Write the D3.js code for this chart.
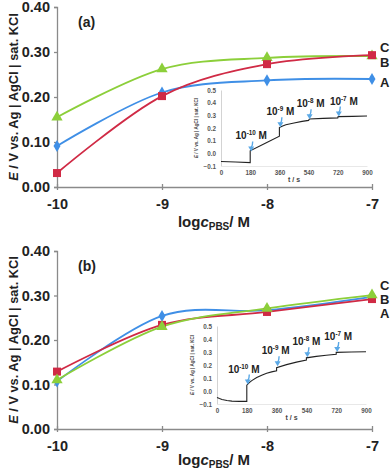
<!DOCTYPE html>
<html><head><meta charset="utf-8">
<script src="https://cdn.jsdelivr.net/npm/d3@7"></script>
<style>
html,body{margin:0;padding:0;background:#fff;}
svg{display:block;font-family:"Liberation Sans",Arial,sans-serif;}
</style></head>
<body>
<svg id="c" width="392" height="473"></svg>
<script>
// ---- data ----
const logc = [-10, -9, -8, -7];
const xTickLabels = ["-10", "-9", "-8", "-7"];
const yTicksMain = [0, 0.1, 0.2, 0.3, 0.4];
const seriesNames = ["A", "B", "C"];

const panelA_A = [0.091, 0.210, 0.237, 0.240];
const panelA_B = [0.031, 0.202, 0.273, 0.293];
const panelA_C = [0.155, 0.262, 0.287, 0.291];

const panelB_A = [0.107, 0.254, 0.267, 0.297];
const panelB_B = [0.129, 0.234, 0.263, 0.292];
const panelB_C = [0.110, 0.230, 0.271, 0.301];

const insetTicksT = [0, 180, 360, 540, 720, 900];
const insetTicksE = [-0.1, 0.0, 0.1, 0.2, 0.3, 0.4, 0.5];
const addTimes = [180, 360, 540, 720];
const addExponents = ["-10", "-9", "-8", "-7"];

const insetA_t = [0, 90, 180, 180, 270, 360, 360, 380, 400, 450, 500, 540, 545, 630, 720, 722, 810, 900];
const insetA_E = [-0.065, -0.069, -0.073, 0.020, 0.078, 0.135, 0.203, 0.215, 0.225, 0.240, 0.252, 0.260, 0.271, 0.276, 0.280, 0.290, 0.292, 0.295];

const insetB_t = [0, 15, 30, 60, 90, 135, 180, 180, 195, 210, 240, 270, 300, 330, 360, 360, 420, 480, 540, 540, 600, 660, 720, 720, 810, 900];
const insetB_E = [-0.050, -0.058, -0.065, -0.073, -0.078, -0.080, -0.080, 0.045, 0.065, 0.080, 0.104, 0.122, 0.136, 0.147, 0.155, 0.180, 0.203, 0.222, 0.238, 0.255, 0.266, 0.275, 0.282, 0.297, 0.300, 0.302];

// ---- styles ----
const colors = {A: "#3f8fe6", B: "#d02a45", C: "#8ccf3a"};
const symbols = {A: d3.symbolDiamond, B: d3.symbolSquare, C: d3.symbolTriangle};
const symSize = {A: 42, B: 64, C: 55};
const axisColor = "#8a8a8a";

const svg = d3.select("#c");

function drawPanel(cfg) {
  const g = svg.append("g");
  const x = d3.scaleLinear().domain([-10, -7]).range([57, 372]);
  const y = d3.scaleLinear().domain([0, 0.4]).range([cfg.y0, cfg.y1]);

  // y axis
  const ya = g.append("g").attr("transform", "translate(57,0)")
    .call(d3.axisLeft(y).tickValues(yTicksMain).tickFormat(d3.format(".2f")).tickSize(3).tickPadding(4));
  ya.select(".domain").attr("stroke", axisColor).attr("stroke-width", 1.3);
  ya.selectAll(".tick line").attr("stroke", axisColor).attr("stroke-width", 1.3);
  ya.selectAll("text").attr("font-size", 14.5).attr("font-weight", "bold").attr("fill", "#222");

  // x axis
  const xa = g.append("g").attr("transform", `translate(0,${cfg.y0})`)
    .call(d3.axisBottom(x).tickValues(logc).tickFormat((d, i) => xTickLabels[i]).tickSize(3).tickPadding(9).tickSizeOuter(0));
  xa.select(".domain").attr("stroke", axisColor).attr("stroke-width", 1.3);
  xa.selectAll(".tick line").attr("stroke", axisColor).attr("stroke-width", 1.3).attr("y1", -3);
  xa.selectAll("text").attr("font-size", 14.5).attr("font-weight", "bold").attr("fill", "#222");

  // y title
  const yt = g.append("text")
    .attr("transform", `translate(18,${(cfg.y0 + cfg.y1) / 2}) rotate(-90)`)
    .attr("text-anchor", "middle").attr("font-size", 12.8).attr("font-weight", "bold").attr("fill", "#222");
  yt.append("tspan").attr("font-style", "italic").text("E");
  yt.append("tspan").text(" / V vs. Ag | AgCl | sat. KCl");

  // x title
  const xt = g.append("text").attr("x", 214).attr("y", cfg.y0 + cfg.xTitleDy)
    .attr("text-anchor", "middle").attr("font-size", 15).attr("font-weight", "bold").attr("fill", "#222");
  xt.append("tspan").text("log");
  xt.append("tspan").attr("font-style", "italic").text("c");
  xt.append("tspan").attr("font-size", 10).attr("dy", 3).text("PBS");
  xt.append("tspan").attr("dy", -3).text("/ M");

  // panel label
  g.append("text").attr("x", 78).attr("y", cfg.y1 + 20).attr("font-size", 14).attr("font-weight", "bold")
    .attr("fill", "#222").text(cfg.label);

  // series lines
  const line = d3.line().x((d, i) => x(logc[i])).y(d => y(d)).curve(d3.curveCardinal.tension(0));
  cfg.order.forEach(k => {
    g.append("path").attr("d", line(cfg.data[k])).attr("fill", "none")
      .attr("stroke", colors[k]).attr("stroke-width", 1.8);
  });
  cfg.order.forEach(k => {
    g.selectAll(null).data(cfg.data[k]).enter().append("path")
      .attr("d", d3.symbol().type(symbols[k]).size(symSize[k]))
      .attr("transform", (d, i) => `translate(${x(logc[i])},${y(d)})`)
      .attr("fill", colors[k]);
  });

  // series letters
  seriesNames.forEach(k => {
    g.append("text").attr("x", 380).attr("y", cfg.letterY[k] + 4.5).attr("font-size", 13)
      .attr("font-weight", "bold").attr("fill", "#222").text(k);
  });

  // inset
  const ix = d3.scaleLinear().domain([0, 900]).range([cfg.ins.x0, cfg.ins.x1]);
  const iy = d3.scaleLinear().domain([-0.1, 0.5]).range([cfg.ins.yb, cfg.ins.yt]);
  const ig = g.append("g");
  const iya = ig.append("g").attr("transform", `translate(${cfg.ins.x0},0)`)
    .call(d3.axisLeft(iy).tickValues(insetTicksE).tickFormat(d3.format(".1f")).tickSize(0).tickPadding(5));
  iya.select(".domain").attr("stroke", "#c8c8c8").attr("stroke-width", 0.8);
  iya.selectAll("text").attr("font-size", 6.3).attr("font-weight", "bold").attr("fill", "#555");
  const ixa = ig.append("g").attr("transform", `translate(0,${cfg.ins.yb})`)
    .call(d3.axisBottom(ix).tickValues(insetTicksT).tickSize(0).tickPadding(5).tickSizeOuter(0));
  ixa.select(".domain").attr("stroke", "#e2e2e2").attr("stroke-width", 0.8);
  ixa.selectAll("text").attr("font-size", 6.3).attr("font-weight", "bold").attr("fill", "#555");
  ig.append("text").attr("x", (cfg.ins.x0 + cfg.ins.x1) / 2).attr("y", cfg.ins.yb + 16)
    .attr("text-anchor", "middle").attr("font-size", 7).attr("font-weight", "bold").attr("fill", "#444").text("t / s");
  const iyt = ig.append("text")
    .attr("transform", `translate(${cfg.ins.x0 - 23},${(cfg.ins.yb + cfg.ins.yt) / 2}) rotate(-90)`)
    .attr("text-anchor", "middle").attr("font-size", 4.6).attr("font-weight", "bold").attr("fill", "#444");
  iyt.append("tspan").attr("font-style", "italic").text("E");
  iyt.append("tspan").text(" / V vs. Ag | AgCl | sat. KCl");

  const il = d3.line().x(d => ix(d[0])).y(d => iy(d[1]));
  ig.append("path").attr("d", il(cfg.ins.t.map((t, i) => [t, cfg.ins.E[i]])))
    .attr("fill", "none").attr("stroke", "#222").attr("stroke-width", 1.1);

  // arrows and labels
  addTimes.forEach((t, i) => {
    const tipE = cfg.ins.arrowE[i];
    const tx = ix(t) + 1, ty = iy(tipE) - 1;
    ig.append("path").attr("d", `M${tx + 1.5},${ty - 9} Q${tx + 1.5},${ty - 5} ${tx},${ty - 3}`)
      .attr("fill", "none").attr("stroke", "#5aa8e6").attr("stroke-width", 1.4);
    ig.append("path").attr("d", `M${tx - 3},${ty - 4} L${tx + 3},${ty - 4} L${tx},${ty + 1} Z`).attr("fill", "#5aa8e6");
    const lt = ig.append("text").attr("x", tx + cfg.ins.labDx[i]).attr("y", ty - 11)
      .attr("text-anchor", "middle").attr("font-size", 10).attr("font-weight", "bold").attr("fill", "#222");
    lt.append("tspan").text("10");
    lt.append("tspan").attr("font-size", 6.3).attr("dy", -4).text(addExponents[i]);
    lt.append("tspan").attr("dy", 4).text(" M");
  });
}

drawPanel({
  label: "(a)", y0: 187, y1: 7, xTitleDy: 40,
  data: {A: panelA_A, B: panelA_B, C: panelA_C}, order: ["C", "A", "B"],
  letterY: {C: 47.5, B: 62.5, A: 82},
  ins: {x0: 221, x1: 367, yt: 90, yb: 166, t: insetA_t, E: insetA_E,
        arrowE: [0.015, 0.205, 0.27, 0.29], labDx: [0, 0, 1, 5]}
});
drawPanel({
  label: "(b)", y0: 429, y1: 251, xTitleDy: 36,
  data: {A: panelB_A, B: panelB_B, C: panelB_C}, order: ["A", "B", "C"],
  letterY: {C: 285, B: 299, A: 313},
  ins: {x0: 217, x1: 366, yt: 326, yb: 404, t: insetB_t, E: insetB_E,
        arrowE: [0.05, 0.19, 0.26, 0.3], labDx: [-4, -2, -1, 1]}
});
</script>
</body></html>
